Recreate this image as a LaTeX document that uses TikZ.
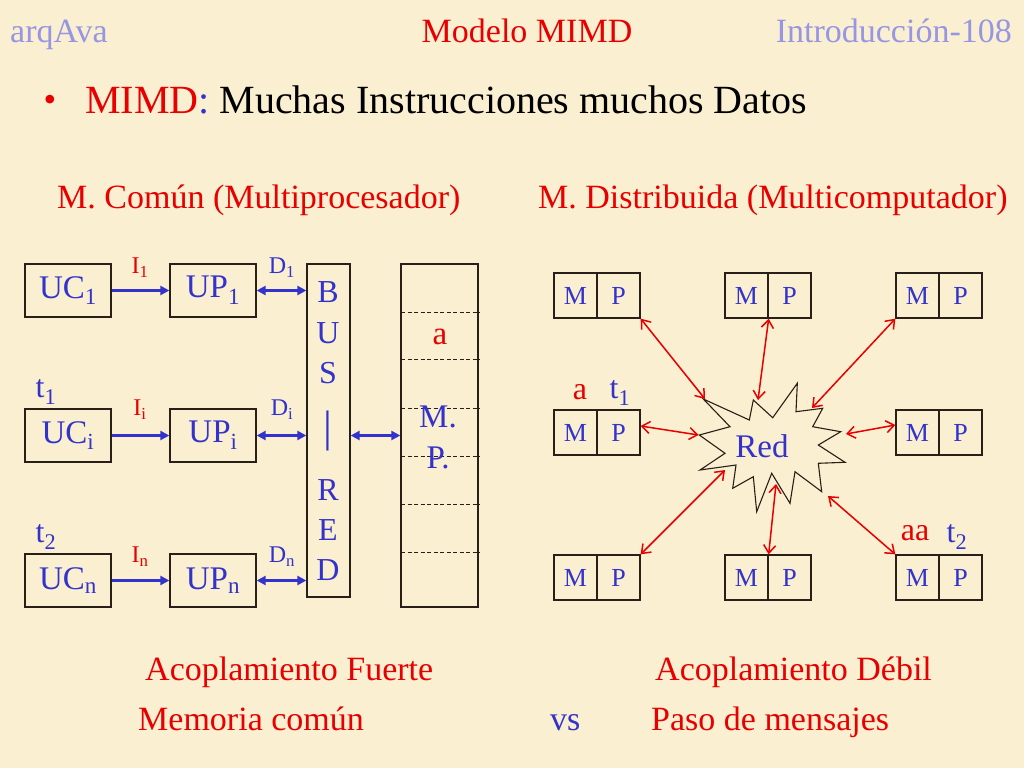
\documentclass[tikz,border=0pt]{standalone}
\usepackage{fontspec}
\setmainfont{Liberation Serif}
\usetikzlibrary{arrows.meta,calc}
\definecolor{bg}{RGB}{250,239,208}
\definecolor{tblue}{RGB}{51,51,204}
\definecolor{hblue}{RGB}{150,150,228}
\definecolor{tred}{RGB}{232,0,0}
\definecolor{edge}{RGB}{40,32,24}
\begin{document}
\begin{tikzpicture}[x=1pt,y=-1pt,
  box/.style={draw=edge,line width=1.3pt,inner sep=0pt,text=tblue,font=\fontsize{33}{36}\selectfont},
  lbox/.style={box,minimum width=86,minimum height=53},
  mbox/.style={draw=edge,line width=1.3pt,inner sep=0pt,text=tblue,font=\fontsize{26}{28}\selectfont,minimum width=43,minimum height=45},
  sublbl/.style={text=tred,inner sep=0pt,font=\fontsize{24}{26}\selectfont},
  dlbl/.style={text=tblue,inner sep=0pt,font=\fontsize{24}{26}\selectfont},
  bigtxt/.style={inner sep=0pt,font=\fontsize{34}{36}\selectfont},
  buslet/.style={inner sep=0pt,text=tblue,font=\fontsize{32}{34}\selectfont},
  barrow/.style={draw=tblue,line width=2.5pt,-{Triangle[length=9pt,width=9pt]}},
  bdarrow/.style={draw=tblue,line width=2.5pt,{Triangle[length=9pt,width=9pt]}-{Triangle[length=9pt,width=9pt]}},
  rarrow/.style={draw=tred,line width=1.5pt,{Straight Barb[length=8pt,width=12pt]}-{Straight Barb[length=8pt,width=12pt]}},
  mpdash/.style={draw=edge,line width=1pt,dash pattern=on 4pt off 2.5pt}]
\fill[bg] (0,0) rectangle (1024,768);
\useasboundingbox (0,0) rectangle (1024,768);

% header
\node[bigtxt,text=hblue,anchor=base west] (hl) at (10,43) {arqAva};
\node[bigtxt,text=tred,anchor=base] (hc) at (527,43) {Modelo MIMD};
\node[bigtxt,text=hblue,anchor=base east] (hr) at (1012,43) {Introducción-108};

% title
\node[inner sep=0pt,text=tred,font=\fontsize{36}{40}\selectfont] (bul) at (50,103) {•};
\node[inner sep=0pt,anchor=base west,font=\fontsize{40}{42}\selectfont] (title) at (85,113) {{\color{tred}MIMD}{\color{tblue}:} Muchas Instrucciones muchos Datos};

% subtitles
\node[bigtxt,text=tred,anchor=base west] (st1) at (57,208) {M. Común (Multiprocesador)};
\node[bigtxt,text=tred,anchor=base west] (st2) at (538,208) {M. Distribuida (Multicomputador)};

% left diagram
\node[lbox] (uc1) at (68,290.5) {UC\textsubscript{1}};
\node[lbox] (up1) at (213,290.5) {UP\textsubscript{1}};
\node[lbox] (uci) at (68,435.5) {UC\textsubscript{i}};
\node[lbox] (upi) at (213,435.5) {UP\textsubscript{i}};
\node[lbox] (ucn) at (68,580.5) {UC\textsubscript{n}};
\node[lbox] (upn) at (213,580.5) {UP\textsubscript{n}};
\node[box,minimum width=43,minimum height=333] (bus) at (328.5,430.5) {};
\node[box,minimum width=77,minimum height=343] (mp) at (439.5,435.5) {};

\foreach \yy in {312,359.5,408,456,504,552} \draw[mpdash] (401,\yy) -- (480,\yy);

\node[buslet] (bB) at (328,292) {B};
\node[buslet] (bU) at (328,333) {U};
\node[buslet] (bS) at (328,373) {S};
\node[inner sep=0pt,text=tblue,font=\fontsize{44}{46}\selectfont] (bbar) at (328,431) {|};
\node[buslet] (bR) at (328,490) {R};
\node[buslet] (bE) at (328,530) {E};
\node[buslet] (bD) at (328,570) {D};

\node[inner sep=0pt,text=tred,font=\fontsize{33}{36}\selectfont] (ma) at (440,337) {a};
\node[inner sep=0pt,text=tblue,font=\fontsize{33}{36}\selectfont] (mM) at (438,417) {M.};
\node[inner sep=0pt,text=tblue,font=\fontsize{33}{36}\selectfont] (mP) at (438,458) {P.};

\node[sublbl] (i1) at (140,268) {I\textsubscript{1}};
\node[sublbl] (ii) at (140,410) {I\textsubscript{i}};
\node[sublbl] (in) at (140,557) {I\textsubscript{n}};
\node[dlbl] (d1) at (282,268) {D\textsubscript{1}};
\node[dlbl] (di) at (282,410) {D\textsubscript{i}};
\node[dlbl] (dn) at (282,557) {D\textsubscript{n}};

\node[inner sep=0pt,text=tblue,font=\fontsize{32}{34}\selectfont] (t1l) at (46,392) {t\textsubscript{1}};
\node[inner sep=0pt,text=tblue,font=\fontsize{32}{34}\selectfont] (t2l) at (46,537) {t\textsubscript{2}};

\draw[barrow] (uc1) -- (up1);
\draw[barrow] (uci) -- (upi);
\draw[barrow] (ucn) -- (upn);
\draw[bdarrow] (up1.east) -- (up1.east -| bus.west);
\draw[bdarrow] (upi.east) -- (upi.east -| bus.west);
\draw[bdarrow] (upn.east) -- (upn.east -| bus.west);
\draw[bdarrow] (upi -| bus.east) -- (upi -| mp.west);

% right diagram
\node[mbox] (m1) at (575.5,295.5) {M}; \node[mbox] (p1) at (618.5,295.5) {P};
\node[mbox] (m2) at (746.5,295.5) {M}; \node[mbox] (p2) at (789.5,295.5) {P};
\node[mbox] (m3) at (917.5,295.5) {M}; \node[mbox] (p3) at (960.5,295.5) {P};
\node[mbox] (m4) at (575.5,432.5) {M}; \node[mbox] (p4) at (618.5,432.5) {P};
\node[mbox] (m5) at (917.5,432.5) {M}; \node[mbox] (p5) at (960.5,432.5) {P};
\node[mbox] (m6) at (575.5,577.5) {M}; \node[mbox] (p6) at (618.5,577.5) {P};
\node[mbox] (m7) at (746.5,577.5) {M}; \node[mbox] (p7) at (789.5,577.5) {P};
\node[mbox] (m8) at (917.5,577.5) {M}; \node[mbox] (p8) at (960.5,577.5) {P};

\draw[edge,line width=1.1pt,fill=bg] (703.3,399) -- (749.3,420) -- (753.3,400) -- (772.7,417.7) -- (797.3,383.3) -- (796,411.7) -- (822.7,408.3) -- (812.7,426.7) -- (840.7,431.7) -- (818.3,445) -- (845,462.3) -- (818.3,463.3) -- (821.7,491.7) -- (795,471.7) -- (790,503.3) -- (771.7,473.3) -- (756.7,511.7) -- (753.3,476.7) -- (732.7,488.3) -- (736,465) -- (700,470) -- (725,453.3) -- (699.3,435) -- (730,426.7) -- cycle;
\node[inner sep=0pt,text=tblue,font=\fontsize{33}{36}\selectfont] (red) at (762,446) {Red};

\coordinate (r1) at (705,399);
\coordinate (r2) at (758,400);
\coordinate (r3) at (812,408);
\coordinate (r4) at (698.5,435);
\coordinate (r5) at (846,434);
\coordinate (r6) at (725,470);
\coordinate (r7) at (776,484);
\coordinate (r8) at (828,496);

\draw[rarrow] (p1.south east) -- (r1);
\draw[rarrow] (m2.south east) -- (r2);
\draw[rarrow] (m3.south west) -- (r3);
\draw[rarrow] ([yshift=6.5pt]p4.east) -- (r4);
\draw[rarrow] ([yshift=7.5pt]m5.west) -- (r5);
\draw[rarrow] (p6.north east) -- (r6);
\draw[rarrow] (m7.north east) -- (r7);
\draw[rarrow] (m8.north west) -- (r8);

\node[inner sep=0pt,text=tred,font=\fontsize{32}{34}\selectfont] (la) at (580,392) {a};
\node[inner sep=0pt,text=tblue,font=\fontsize{32}{34}\selectfont] (lt1) at (620,393) {t\textsubscript{1}};
\node[inner sep=0pt,text=tred,font=\fontsize{32}{34}\selectfont] (laa) at (915,533) {aa};
\node[inner sep=0pt,text=tblue,font=\fontsize{32}{34}\selectfont] (lt2) at (957,537) {t\textsubscript{2}};

% bottom
\node[bigtxt,text=tred,anchor=base west] (b1) at (145,680) {Acoplamiento Fuerte};
\node[bigtxt,text=tred,anchor=base west] (b2) at (655,680) {Acoplamiento Débil};
\node[bigtxt,text=tred,anchor=base west] (b3) at (138,730) {Memoria común};
\node[bigtxt,text=tblue,anchor=base west] (b4) at (550,730) {vs};
\node[bigtxt,text=tred,anchor=base west] (b5) at (651,730) {Paso de mensajes};
\end{tikzpicture}
\end{document}
